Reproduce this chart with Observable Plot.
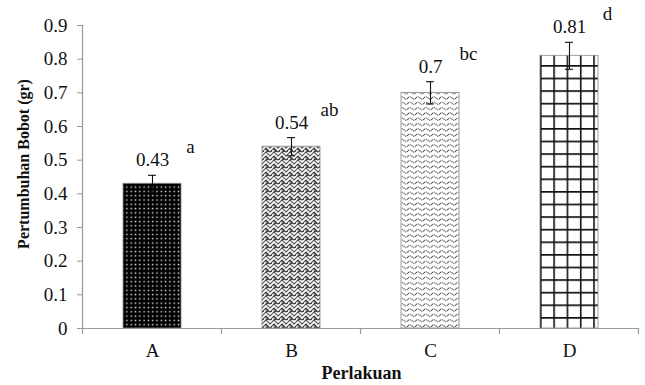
<!DOCTYPE html>
<html>
<head>
<meta charset="utf-8">
<script src="https://cdn.jsdelivr.net/npm/d3@7"></script>
<script src="https://cdn.jsdelivr.net/npm/@observablehq/plot@0.6"></script>
<style>
  html, body { margin: 0; padding: 0; background: #fff; }
</style>
</head>
<body>
<div id="chart"></div>
<script>
const categories = ["A", "B", "C", "D"];
const values = [0.43, 0.54, 0.70, 0.81];
const errors = [0.025, 0.027, 0.033, 0.04];
const valueLabels = ["0.43", "0.54", "0.7", "0.81"];
const letters = ["a", "ab", "bc", "d"];
const patterns = ["patDots", "patZigzag", "patWave", "patGrid"];
const yTicks = [0, 0.1, 0.2, 0.3, 0.4, 0.5, 0.6, 0.7, 0.8, 0.9];
const yTitle = "Pertumbuhan Bobot (gr)";
const xTitle = "Perlakuan";

const data = categories.map((c, i) => ({
  cat: c,
  value: values[i],
  lo: values[i] - errors[i],
  hi: values[i] + errors[i],
  label: valueLabels[i],
  letter: letters[i],
  fillUrl: `url(#${patterns[i]})`
}));

const serif = "'Liberation Serif', 'Times New Roman', serif";

const svg = Plot.plot({
  width: 645,
  height: 385,
  marginLeft: 83,
  marginRight: 6,
  marginTop: 25,
  marginBottom: 57,
  style: { fontFamily: serif, fontSize: "19px", color: "#111", background: "#fff" },
  x: { domain: categories, paddingInner: 0.58, paddingOuter: 0.29, label: null },
  y: { domain: [0, 0.9], label: null },
  color: { type: "identity" },
  marks: [
    Plot.axisY({ ticks: yTicks, tickSize: 6, tickPadding: 10, stroke: "#999", fill: "#111", label: null, tickFormat: d => String(d) }),
    Plot.axisX({ tickSize: 0, tickPadding: 15, fill: "#111", label: null }),
    Plot.barY(data, { x: "cat", y: "value", fill: "fillUrl", stroke: "#888", strokeWidth: 0.8 }),
    Plot.ruleY([0], { stroke: "#999", strokeWidth: 1.2 }),
    Plot.ruleX(data, { x: "cat", y1: "lo", y2: "hi", stroke: "#111", strokeWidth: 1.1 }),
    Plot.tickY(data, { x: "cat", y: "hi", insetLeft: 25, insetRight: 25, stroke: "#111", strokeWidth: 1.1 }),
    Plot.tickY(data, { x: "cat", y: "lo", insetLeft: 25, insetRight: 25, stroke: "#111", strokeWidth: 1.1 }),
    Plot.text(data, { x: "cat", y: "hi", text: "label", dy: -15, fill: "#111", fontSize: 19 }),
    Plot.text(data, { x: "cat", y: "hi", text: "letter", dx: 38, dy: -28, fill: "#111", fontSize: 19 }),
    Plot.text([yTitle], { text: d => d, frameAnchor: "left", textAnchor: "middle", lineAnchor: "middle", rotate: -90, dx: -60, dy: -13, fontWeight: "bold", fontSize: 16, fill: "#111" }),
    Plot.text([xTitle], { text: d => d, frameAnchor: "bottom", textAnchor: "middle", lineAnchor: "middle", dy: 45, fontWeight: "bold", fontSize: 18, fill: "#111" })
  ]
});

// Axis line and category boundary ticks, from the plot's own scales
const xs = svg.scale("x");
const ys = svg.scale("y");
const step = xs.apply(categories[1]) - xs.apply(categories[0]);
const bw = xs.bandwidth;
const gap = (step - bw) / 2;
const y0 = ys.apply(0);
const yTop = ys.apply(0.9);
const root = d3.select(svg);
const g = root.append("g").attr("stroke", "#999").attr("stroke-width", 1.2);
g.append("line").attr("x1", xs.apply(categories[0]) - gap).attr("x2", xs.apply(categories[0]) - gap)
  .attr("y1", yTop).attr("y2", y0 + 1);
categories.forEach((c, i) => {
  const bx = xs.apply(c) - gap;
  g.append("line").attr("x1", bx).attr("x2", bx).attr("y1", y0).attr("y2", y0 + 6);
  if (i === categories.length - 1) {
    const ex = xs.apply(c) + bw + gap;
    g.append("line").attr("x1", ex).attr("x2", ex).attr("y1", y0).attr("y2", y0 + 6);
  }
});

// Fill patterns
const defs = root.insert("defs", ":first-child");
const pDots = defs.append("pattern").attr("id", "patDots").attr("patternUnits", "userSpaceOnUse").attr("width", 4.3).attr("height", 4.3);
pDots.append("rect").attr("width", 4.3).attr("height", 4.3).attr("fill", "#000");
pDots.append("rect").attr("x", 1.5).attr("y", 1.5).attr("width", 1.4).attr("height", 1.4).attr("fill", "#f0f0f0");

const pZig = defs.append("pattern").attr("id", "patZigzag").attr("patternUnits", "userSpaceOnUse").attr("width", 8).attr("height", 8);
pZig.append("rect").attr("width", 8).attr("height", 8).attr("fill", "#4a4a4a");
pZig.append("path").attr("d", "M-2,6 L2,2 L6,6 L10,2 M-2,10 L2,6 M6,-2 L10,-6 M-2,2 L2,-2 L6,2 L10,-2")
  .attr("fill", "none").attr("stroke", "#fff").attr("stroke-width", 1.6);

const pWave = defs.append("pattern").attr("id", "patWave").attr("patternUnits", "userSpaceOnUse").attr("width", 8).attr("height", 5.3);
pWave.append("rect").attr("width", 8).attr("height", 5.3).attr("fill", "#fff");
pWave.append("path").attr("d", "M0,2.6 Q2,0.4 4,2.6 T8,2.6")
  .attr("fill", "none").attr("stroke", "#333").attr("stroke-width", 1).attr("stroke-dasharray", "1.2,0.8");

const pGrid = defs.append("pattern").attr("id", "patGrid").attr("patternUnits", "userSpaceOnUse")
  .attr("x", xs.apply("D")).attr("y", ys.apply(values[3]) + 9.7).attr("width", 13.3).attr("height", 12.6);
pGrid.append("rect").attr("width", 13.3).attr("height", 12.6).attr("fill", "#fff");
pGrid.append("path").attr("d", "M0.8,0 V12.6 M0,0.8 H13.3").attr("stroke", "#111").attr("stroke-width", 1.6).attr("fill", "none");

document.getElementById("chart").appendChild(svg);
</script>
</body>
</html>
